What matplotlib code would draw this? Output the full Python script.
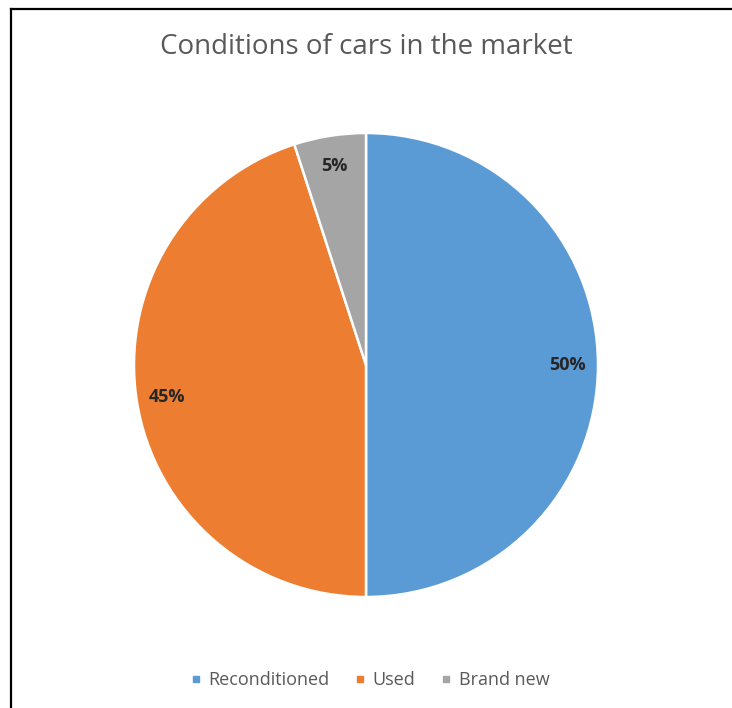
import matplotlib
matplotlib.use("Agg")
import matplotlib.pyplot as plt
from matplotlib.lines import Line2D

labels = ["Reconditioned", "Used", "Brand new"]
shares = [50, 45, 5]
colors = ["#5B9BD5", "#ED7D31", "#A5A5A5"]
title = "Conditions of cars in the market"

plt.rcParams["font.family"] = ["Open Sans", "DejaVu Sans"]

fig = plt.figure(figsize=(7.32, 7.08), dpi=100)
ax = fig.add_axes([134 / 732, 111 / 708, 464 / 732, 464 / 708])

wedges, texts, autotexts = ax.pie(
    shares, colors=colors, startangle=90, counterclock=False,
    autopct="%d%%", pctdistance=0.87,
    wedgeprops=dict(edgecolor="white", linewidth=1.8),
    textprops=dict(fontsize=13, fontweight="bold", color="#262626"))
ax.set_xlim(-1, 1)
ax.set_ylim(-1, 1)
ax.set_aspect("equal")

fig.text(366 / 732, 1 - 47 / 708, title, ha="center", va="center",
         fontsize=20, color="#595959")

handles = [Line2D([], [], marker="s", linestyle="none", markersize=5,
                  markerfacecolor=c, markeredgecolor=c) for c in colors]
fig.legend(handles, labels, loc="center", bbox_to_anchor=(370 / 732, 1 - 680 / 708),
           ncol=3, frameon=False, fontsize=13, labelcolor="#595959",
           handlelength=0.6, handletextpad=0.4, columnspacing=1.4)

# chart frame: only the left and top edges show
fig.add_artist(Line2D([11 / 732, 11 / 732], [0, 1 - 9 / 708], color="black",
                      linewidth=1.6, transform=fig.transFigure))
fig.add_artist(Line2D([11 / 732, 1], [1 - 9 / 708, 1 - 9 / 708], color="black",
                      linewidth=1.6, transform=fig.transFigure))

fig.savefig("out.png", dpi=100, facecolor="white")
